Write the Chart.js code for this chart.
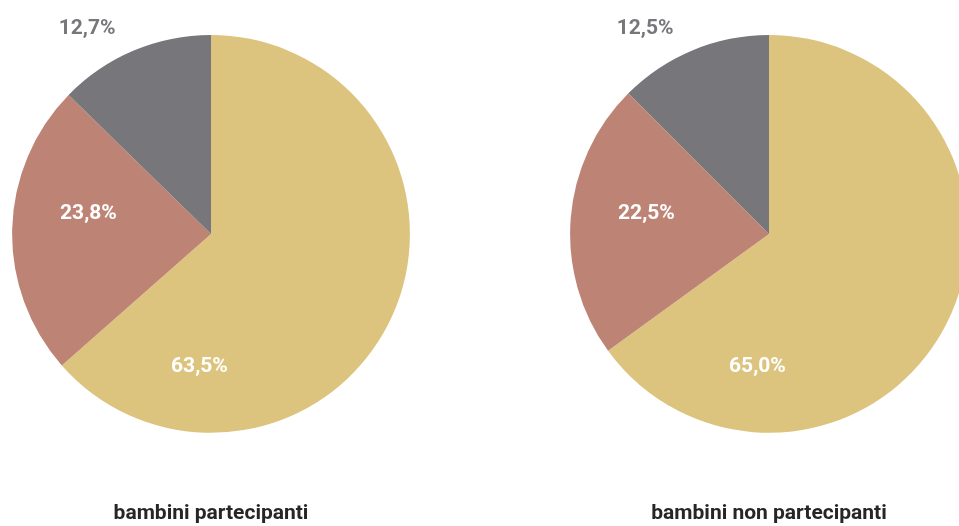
<!DOCTYPE html>
<html lang="it">
  <head>
    <meta charset="UTF-8" />
    <title>Bambini partecipanti e non partecipanti</title>
    <script src="https://cdn.jsdelivr.net/npm/chart.js"></script>
    <style>
      html,
      body {
        margin: 0;
        width: 959px;
        height: 526px;
        overflow: hidden;
        background: #fff;
      }
      .pie {
        position: absolute;
        top: 0;
        width: 398px;
        height: 526px;
      }
      #pie1 {
        left: 12px;
      }
      #pie2 {
        left: 570px;
      }
    </style>
  </head>
  <body>
    <div class="pie" id="pie1"><canvas id="chart1"></canvas></div>
    <div class="pie" id="pie2"><canvas id="chart2"></canvas></div>

    <script>
      const categories = ['Gruppo A', 'Gruppo B', 'Gruppo C'];
      const partecipanti = [63.5, 23.8, 12.7];
      const nonPartecipanti = [65.0, 22.5, 12.5];
      const titles = ['bambini partecipanti', 'bambini non partecipanti'];

      const colors = ['#dcc47f', '#bd8475', '#77777b'];
      const labelColors = ['#ffffff', '#ffffff', '#77777b'];
      // where each percentage sits, as a fraction of the radius from the centre
      const labelAnchors = [
        [-0.058, 0.668],
        [-0.616, -0.101],
        [-0.623, -1.03],
      ];

      const fmt = (v) => v.toFixed(1).replace('.', ',') + '%';

      // percentages drawn on/around each slice
      const pctLabels = {
        id: 'pctLabels',
        afterDatasetsDraw(chart) {
          const ctx = chart.ctx;
          const meta = chart.getDatasetMeta(0);
          const values = chart.data.datasets[0].data;
          ctx.save();
          ctx.font = 'bold 21px Roboto';
          ctx.textAlign = 'center';
          ctx.textBaseline = 'middle';
          meta.data.forEach((arc, i) => {
            const r = arc.outerRadius;
            ctx.fillStyle = labelColors[i];
            ctx.fillText(
              fmt(values[i]),
              arc.x + labelAnchors[i][0] * r,
              arc.y + labelAnchors[i][1] * r
            );
          });
          ctx.restore();
        },
      };

      function makePie(id, values, title) {
        const ctx = document.getElementById(id).getContext('2d');
        return new Chart(ctx, {
          type: 'pie',
          data: {
            labels: categories,
            datasets: [
              {
                data: values,
                backgroundColor: colors,
                borderWidth: 0,
              },
            ],
          },
          options: {
            responsive: true,
            maintainAspectRatio: false,
            animation: false,
            layout: {
              padding: { top: 35, bottom: 0, left: 0, right: 0 },
            },
            plugins: {
              legend: { display: false },
              tooltip: { enabled: false },
              title: {
                display: true,
                text: title,
                position: 'bottom',
                color: '#262626',
                font: { family: 'Roboto', size: 21, weight: 'bold' },
                padding: { top: 68, bottom: 0 },
              },
            },
          },
          plugins: [pctLabels],
        });
      }

      makePie('chart1', partecipanti, titles[0]);
      makePie('chart2', nonPartecipanti, titles[1]);
    </script>
  </body>
</html>
